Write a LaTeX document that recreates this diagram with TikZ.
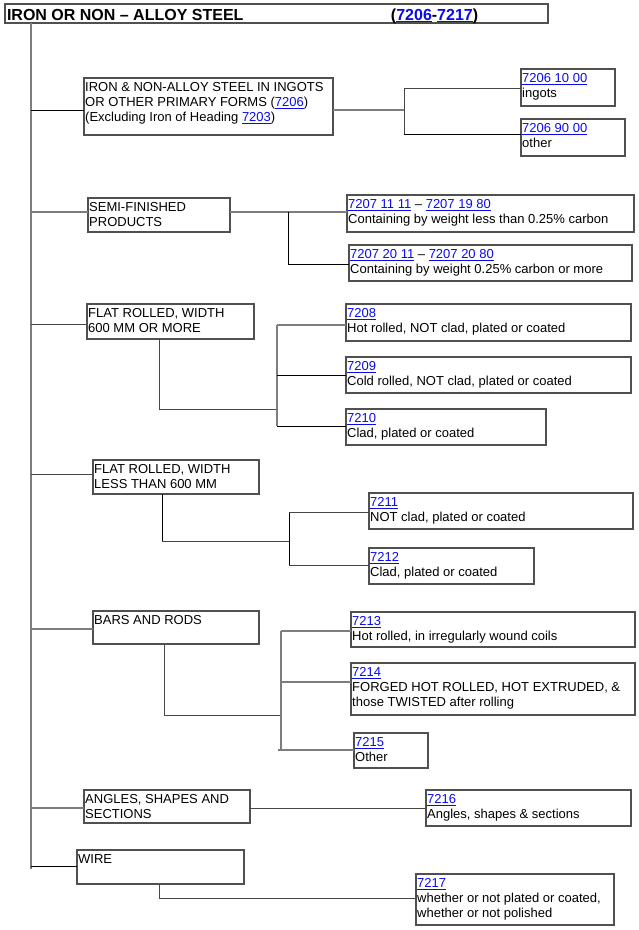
\documentclass[tikz,border=0pt]{standalone}
\usepackage{fontspec}
\setmainfont{Liberation Sans}
\definecolor{lnkblue}{RGB}{10,10,235}
\definecolor{bordergray}{RGB}{80,80,80}
\definecolor{linegray}{RGB}{125,125,125}
\definecolor{linedark}{RGB}{70,70,70}
\newcommand\lnk[1]{{\color{lnkblue}\underline{#1}}}
\newcommand\bx[6]{\node[boxst] (#1) at (#2,#3) {\parbox[t][\dimexpr#5pt-#3pt\relax][t]{\dimexpr#4pt-#2pt\relax}{\raggedright\leftskip=1.2pt\rule{0pt}{13.5pt}#6}};}
\tikzset{
  boxst/.style={draw=bordergray, line width=1.1pt, inner sep=0pt, outer sep=0pt, anchor=north west, font=\fontsize{13pt}{15pt}\selectfont},
  titlest/.style={draw=bordergray, line width=1.1pt, inner sep=0pt, outer sep=0pt, anchor=north west, font=\fontsize{16pt}{18pt}\selectfont\bfseries},
  cg/.style={draw=linegray, line width=1.3pt},
  cd/.style={draw=linedark, line width=1.0pt},
  ck/.style={draw=black, line width=0.8pt}
}
\begin{document}
\begin{tikzpicture}[x=1pt,y=-1pt]
\useasboundingbox (0,0) rectangle (639,930);
% title
\node[titlest] (t) at (5,4) {\parbox[t][19pt][t]{543pt}{\rule{0pt}{16pt}\hspace*{2pt}\makebox[384pt][l]{IRON OR NON – ALLOY STEEL}(\lnk{7206}-\lnk{7217})}};
% boxes
\bx{b1}{84}{78}{333}{135}{IRON \& NON-ALLOY STEEL IN INGOTS\\OR OTHER PRIMARY FORMS (\lnk{7206})\\(Excluding Iron of Heading \lnk{7203})}
\bx{a1}{521}{69}{615}{106}{\lnk{7206 10 00}\\ingots}
\bx{a2}{521}{119}{625}{156}{\lnk{7206 90 00}\\other}
\bx{b2}{88}{198}{230}{232}{SEMI-FINISHED\\PRODUCTS}
\bx{c1}{347}{195}{634}{232}{\lnk{7207 11 11} – \lnk{7207 19 80}\\Containing by weight less than 0.25\% carbon}
\bx{c2}{349}{245}{632}{281}{\lnk{7207 20 11} – \lnk{7207 20 80}\\Containing by weight 0.25\% carbon or more}
\bx{b3}{87}{304}{254}{339}{FLAT ROLLED, WIDTH\\600 MM OR MORE}
\bx{d1}{346}{304}{631}{341}{\lnk{7208}\\Hot rolled, NOT clad, plated or coated}
\bx{d2}{346}{357}{631}{393}{\lnk{7209}\\Cold rolled, NOT clad, plated or coated}
\bx{d3}{346}{409}{546}{445}{\lnk{7210}\\Clad, plated or coated}
\bx{b4}{93}{460}{259}{494}{FLAT ROLLED, WIDTH\\LESS THAN 600 MM}
\bx{e1}{369}{493}{633}{529}{\lnk{7211}\\NOT clad, plated or coated}
\bx{e2}{369}{548}{534}{584}{\lnk{7212}\\Clad, plated or coated}
\bx{b5}{93}{611}{259}{644}{BARS AND RODS}
\bx{f1}{351}{612}{635}{647}{\lnk{7213}\\Hot rolled, in irregularly wound coils}
\bx{f2}{351}{663}{635}{715}{\lnk{7214}\\FORGED HOT ROLLED, HOT EXTRUDED, \&\\those TWISTED after rolling}
\bx{f3}{354}{733}{428}{768}{\lnk{7215}\\Other}
\bx{b6}{84}{790}{250}{823}{ANGLES, SHAPES AND\\SECTIONS}
\bx{g1}{426}{790}{631}{826}{\lnk{7216}\\Angles, shapes \& sections}
\bx{b7}{77}{850}{244}{884}{WIRE}
\bx{h1}{416}{874}{614}{925}{\lnk{7217}\\whether or not plated or coated,\\whether or not polished}
% main trunk
\coordinate (mbot) at (31,869);
\draw[cg] (t.south west -| mbot) -- (mbot);
% group 1
\coordinate (j1) at (31,110);
\draw[ck] (j1) -- (j1 -| b1.west);
\coordinate (k1) at (404,110);
\draw[cg] (k1 -| b1.east) -- (k1);
\coordinate (k1a) at (404,88);
\coordinate (k1b) at (404,134);
\draw[cd] (k1a) -- (k1b);
\draw[cd] (k1a) -- (k1a -| a1.west);
\draw[ck] (k1b) -- (k1b -| a2.west);
% group 2
\coordinate (j2) at (31,212);
\draw[cg] (j2) -- (j2 -| b2.west);
\draw[cg] (j2 -| b2.east) -- (j2 -| c1.west);
\coordinate (k2) at (288,212);
\coordinate (k2b) at (288,264);
\draw[ck] (k2) -- (k2b) -- (k2b -| c2.west);
% group 3
\coordinate (j3) at (31,324);
\draw[cd] (j3) -- (j3 -| b3.west);
\coordinate (s3b) at (159,409);
\coordinate (k3m) at (277,409);
\draw[cd] (s3b |- b3.south) -- (s3b) -- (k3m);
\coordinate (k3a) at (277,325);
\coordinate (k3b) at (277,375);
\coordinate (k3c) at (277,426);
\draw[cg] (k3a) -- (k3c);
\draw[cg] (k3a) -- (k3a -| d1.west);
\draw[ck] (k3b) -- (k3b -| d2.west);
\draw[ck] (k3c) -- (k3c -| d3.west);
% group 4
\coordinate (j4) at (31,474);
\draw[cd] (j4) -- (j4 -| b4.west);
\coordinate (s4b) at (162,541);
\coordinate (k4m) at (289,541);
\draw[ck] (s4b |- b4.south) -- (s4b);
\draw[cd] (s4b) -- (k4m);
\coordinate (k4a) at (289,512);
\coordinate (k4b) at (289,565);
\draw[ck] (k4a) -- (k4b);
\draw[cd] (k4a) -- (k4a -| e1.west);
\draw[cd] (k4b) -- (k4b -| e2.west);
% group 5
\coordinate (j5) at (31,629);
\draw[cg] (j5) -- (j5 -| b5.west);
\coordinate (s5b) at (164,715);
\coordinate (k5m) at (281,715);
\draw[cd] (s5b |- b5.south) -- (s5b) -- (k5m);
\coordinate (k5a) at (281,631);
\coordinate (k5b) at (281,682);
\coordinate (k5c) at (281,750);
\coordinate (k5d) at (278,750);
\draw[cg] (k5a) -- (k5c);
\draw[cg] (k5a) -- (k5a -| f1.west);
\draw[cg] (k5b) -- (k5b -| f2.west);
\draw[cg] (k5d) -- (k5d -| f3.west);
% group 6
\coordinate (j6) at (31,808);
\draw[cg] (j6) -- (j6 -| b6.west);
\draw[cd] (j6 -| b6.east) -- (j6 -| g1.west);
% group 7
\coordinate (j7) at (31,866);
\draw[ck] (j7) -- (j7 -| b7.west);
\coordinate (s7b) at (159,898);
\draw[cd] (s7b |- b7.south) -- (s7b) -- (s7b -| h1.west);
\end{tikzpicture}
\end{document}
